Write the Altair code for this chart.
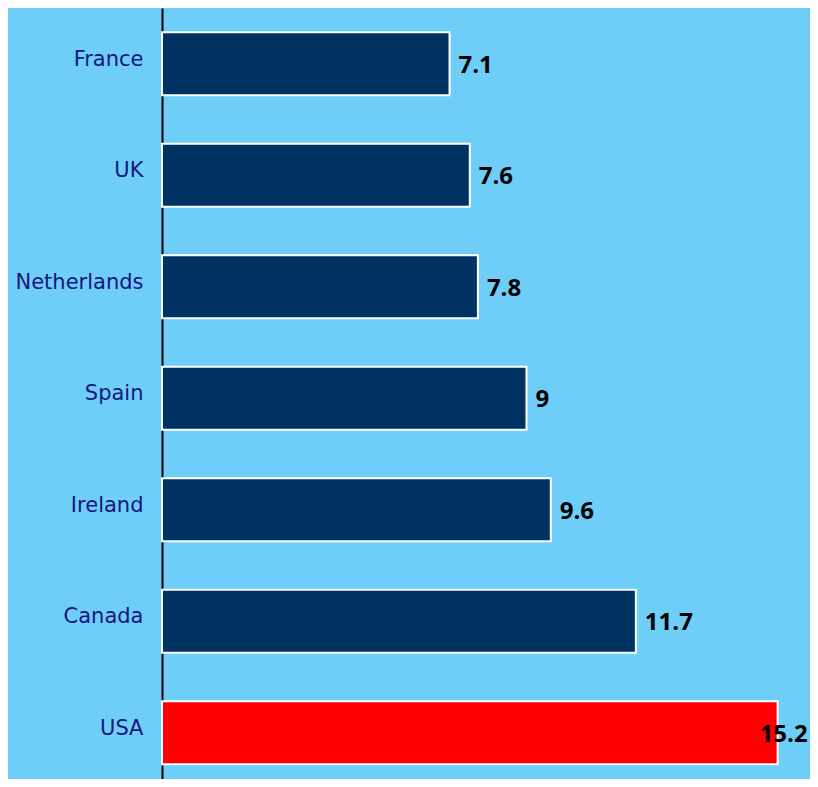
import altair as alt
import pandas as pd

countries = ["France", "UK", "Netherlands", "Spain", "Ireland", "Canada", "USA"]
values = [7.1, 7.6, 7.8, 9, 9.6, 11.7, 15.2]
labels = ["7.1", "7.6", "7.8", "9", "9.6", "11.7", "15.2"]

df = pd.DataFrame({"country": countries, "value": values, "label": labels})

y_enc = alt.Y(
    "country:N",
    sort=countries,
    scale=alt.Scale(range=[0, 780.5], paddingInner=0.435, paddingOuter=0.2175),
    axis=alt.Axis(
        title=None,
        ticks=False,
        grid=False,
        domainColor="black",
        domainWidth=2,
        labelFont="DejaVu Sans",
        labelFontSize=21,
        labelColor="#15157f",
        labelPadding=19,
        labelOffset=-4,
    ),
)
x_enc = alt.X("value:Q", scale=alt.Scale(domain=[0, 16], nice=False, zero=True), axis=None)

bars = alt.Chart(df).mark_bar(stroke="white", strokeWidth=2).encode(
    y=y_enc,
    x=x_enc,
    color=alt.condition(alt.datum.country == "USA", alt.value("#ff0000"), alt.value("#003262")),
)

text_style = dict(font="Open Sans", fontSize=24, fontWeight="bold", color="black", align="left", baseline="middle", dy=2)

labels_main = alt.Chart(df).transform_filter(alt.datum.country != "USA").mark_text(dx=9, **text_style).encode(
    y=alt.Y("country:N", sort=countries), x="value:Q", text="label:N"
)
labels_usa = alt.Chart(df).transform_filter(alt.datum.country == "USA").mark_text(dx=-18, **text_style).encode(
    y=alt.Y("country:N", sort=countries), x="value:Q", text="label:N"
)

chart = (
    alt.layer(bars, labels_main, labels_usa)
    .properties(
        width=648,
        height=771,
        autosize=alt.AutoSizeParams(type="none"),
        padding={"left": 154, "top": 0, "right": 0, "bottom": 0},
        background="#6ecef7",
    )
    .configure_view(stroke=None)
)

chart.save("out.html", embed_options={"renderer": "svg", "actions": False})
